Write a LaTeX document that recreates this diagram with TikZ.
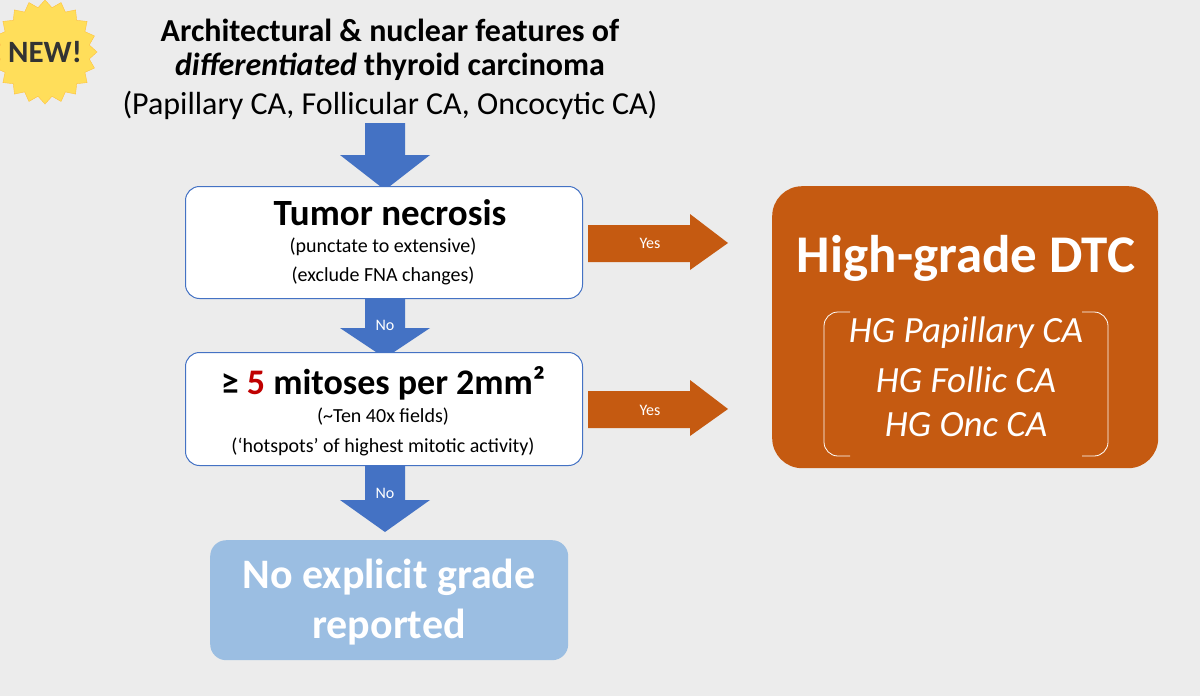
\documentclass[tikz,border=0pt]{standalone}
\usepackage{fontspec}
\setmainfont{Carlito}
\usetikzlibrary{shapes.geometric,shapes.arrows}
\definecolor{bg}{RGB}{236,236,236}
\definecolor{bblue}{RGB}{68,114,196}
\definecolor{lblue}{RGB}{155,190,226}
\definecolor{orng}{RGB}{197,90,17}
\definecolor{ylw}{RGB}{255,222,90}
\definecolor{dred}{RGB}{192,0,0}
\begin{document}
\begin{tikzpicture}[x=1pt,y=-1pt,
  box/.style={draw=bblue,line width=1pt,fill=white,rounded corners=14pt,minimum width=397pt,minimum height=112pt,anchor=north west},
  dnarrow/.style={fill=bblue},
  rtarrow/.style={fill=orng},
  lab/.style={text=white,font=\fontsize{16}{18}\selectfont},
  small/.style={font=\fontsize{20}{22}\selectfont},
  hg/.style={text=white,font=\fontsize{37}{40}\selectfont\itshape}]
\useasboundingbox (0,0) rectangle (1200,696);
\fill[bg] (0,0) rectangle (1200,696);
% badge
\node[star,star points=20,star point ratio=1.16,minimum size=104pt,fill=ylw,draw=ylw!70!orange] (badge) at (45,52) {};
\node[font=\fontsize{31}{33}\selectfont\bfseries,text=black!80] (new) at (45,52) {NEW!};
% title
\node[font=\fontsize{32}{34}\selectfont\bfseries] (t1) at (390,30) {Architectural \& nuclear features of};
\node[font=\fontsize{32}{34}\selectfont\bfseries] (t2) at (390,67) {\textit{differentiated} thyroid carcinoma};
\node[font=\fontsize{32}{34}\selectfont] (t3) at (390,105) {(Papillary CA, Follicular CA, Oncocytic CA)};
% down arrows
\fill[dnarrow] (365,123) -- (405,123) -- (405,155) -- (430,155) -- (385,190) -- (340,155) -- (365,155) -- cycle;
\fill[dnarrow] (365,298) -- (405,298) -- (405,328) -- (430,328) -- (385,358) -- (340,328) -- (365,328) -- cycle;
\node[lab] (no1) at (385,325) {No};
\fill[dnarrow] (365,465) -- (405,465) -- (405,500) -- (430,500) -- (385,532) -- (340,500) -- (365,500) -- cycle;
\node[lab] (no2) at (385,493) {No};
% boxes
\node[box] (b1) at (185,186) {};
\node[font=\fontsize{37}{40}\selectfont\bfseries] (b1a) at (390,213) {Tumor necrosis};
\node[small] (b1b) at (383,247) {(punctate to extensive)};
\node[small] (b1c) at (383,276) {(exclude FNA changes)};
\node[box,minimum height=113pt] (b2) at (185,352) {};
\node[font=\fontsize{36}{40}\selectfont\bfseries] (b2a) at (383,383) {≥ \textcolor{dred}{5} mitoses per 2mm²};
\node[small] (b2b) at (383,417) {(\textasciitilde Ten 40x fields)};
\node[small] (b2c) at (383,447) {(‘hotspots’ of highest mitotic activity)};
\node[fill=lblue,rounded corners=16pt,minimum width=358pt,minimum height=120pt,anchor=north west] (b3) at (210,540) {};
\node[text=white,font=\fontsize{42}{50}\selectfont\bfseries,align=center] (b3t) at (389,602) {No explicit grade\\reported};
% right arrows
\fill[rtarrow] (588,225) -- (690,225) -- (690,214) -- (728,243) -- (690,270) -- (690,262) -- (588,262) -- cycle;
\node[lab] (y1) at (650,243) {Yes};
\fill[rtarrow] (588,391) -- (690,391) -- (690,380) -- (728,409) -- (690,436) -- (690,428) -- (588,428) -- cycle;
\node[lab] (y2) at (650,410) {Yes};
% orange box
\node[fill=orng,rounded corners=30pt,minimum width=386pt,minimum height=282pt,anchor=north west] (ob) at (772,186) {};
\node[text=white,font=\fontsize{53}{56}\selectfont\bfseries] (obt) at (966,258) {High-grade DTC};
\draw[white,line width=0.8pt,rounded corners=14pt] (850,312) -- (824,312) -- (824,456) -- (850,456);
\draw[white,line width=0.8pt,rounded corners=14pt] (1082,312) -- (1108,312) -- (1108,456) -- (1082,456);
\node[hg] (h1) at (966,333) {HG Papillary CA};
\node[hg] (h2) at (966,380) {HG Follic CA};
\node[hg] (h3) at (966,425) {HG Onc CA};
\end{tikzpicture}
\end{document}
